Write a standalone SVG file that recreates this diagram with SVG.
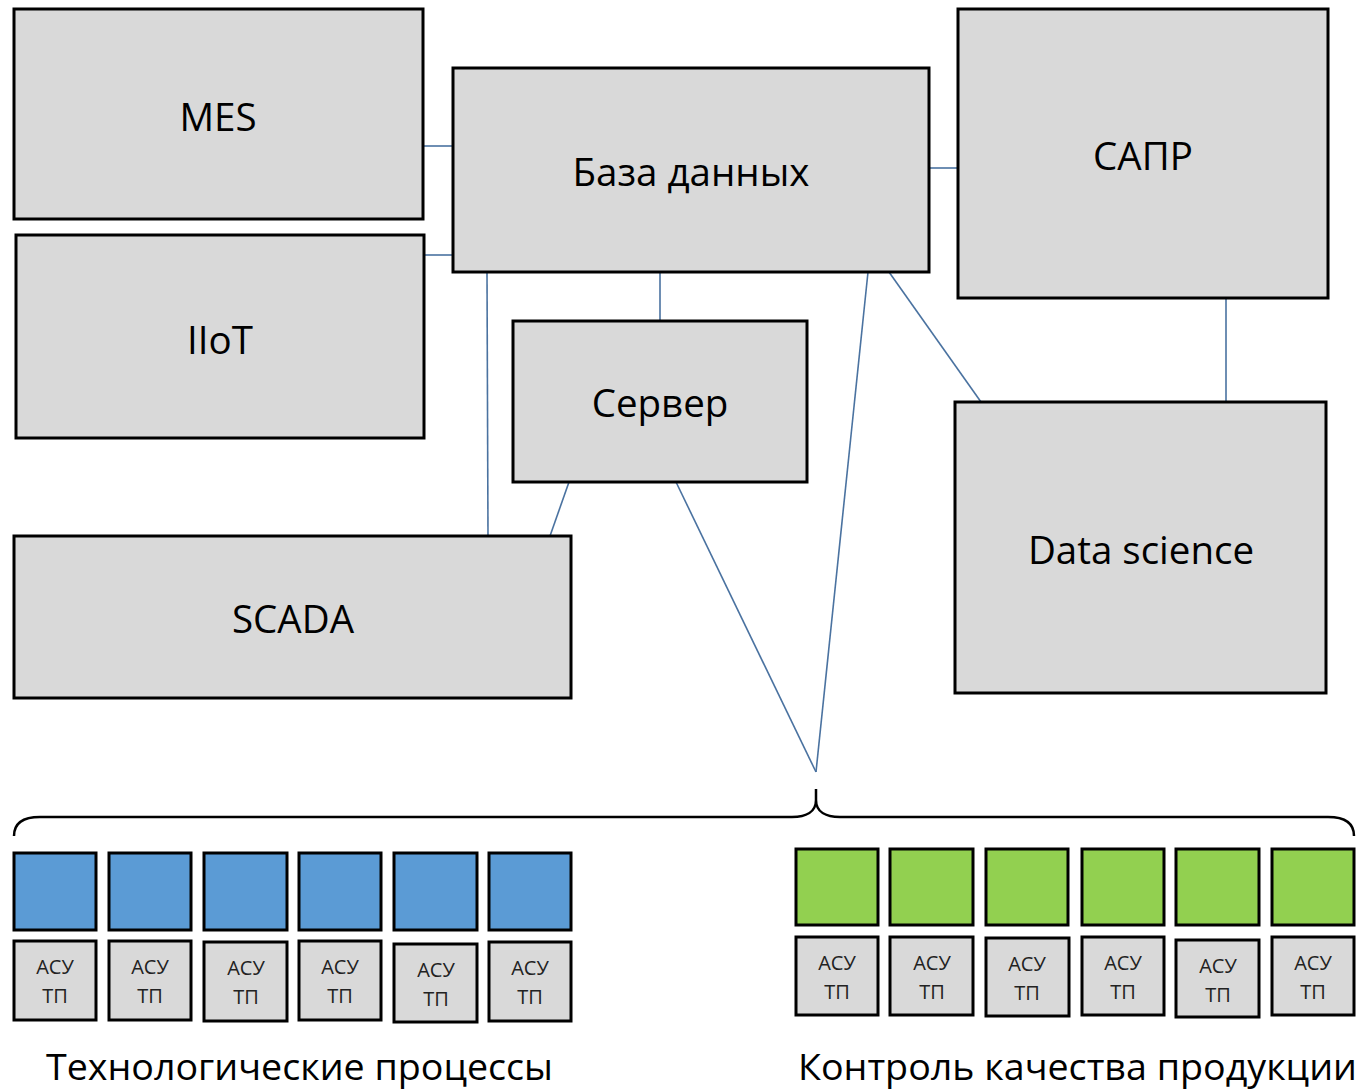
<svg xmlns="http://www.w3.org/2000/svg" width="1363" height="1089" viewBox="0 0 1363 1089">
<style>
.box{fill:#d9d9d9;stroke:#000;stroke-width:3}
.blue{fill:#5b9bd5;stroke:#000;stroke-width:3}
.green{fill:#92d050;stroke:#000;stroke-width:3}
.lbl{font-family:"Open Sans","Liberation Sans",sans-serif;font-size:38.5px;fill:#000;text-anchor:middle;dominant-baseline:central}
.acu{font-family:"Open Sans","Liberation Sans",sans-serif;font-size:20px;fill:#222;text-anchor:middle}
.cap{font-family:"Open Sans","Liberation Sans",sans-serif;font-size:36px;fill:#000}
.conn line{stroke:#4a72a0;stroke-width:1.6}
</style>
<rect width="1363" height="1089" fill="#fff"/>
<g id="connectors" class="conn">
<line x1="423" y1="146" x2="453" y2="146"/>
<line x1="424" y1="255" x2="453" y2="255"/>
<line x1="929" y1="168" x2="958" y2="168"/>
<line x1="660" y1="272" x2="660" y2="321"/>
<line x1="487" y1="272" x2="488" y2="536"/>
<line x1="569" y1="482" x2="550" y2="536"/>
<line x1="676" y1="482" x2="816" y2="772"/>
<line x1="868" y1="272" x2="816" y2="772"/>
<line x1="889" y1="272" x2="981" y2="402"/>
<line x1="1226" y1="298" x2="1226" y2="402"/>
</g>
<g id="mes"><rect class="box" x="14" y="9" width="409" height="210"/><text class="lbl" x="218" y="116">MES</text></g>
<g id="db"><rect class="box" x="453" y="68" width="476" height="204"/><text class="lbl" x="691" y="171">База данных</text></g>
<g id="sapr"><rect class="box" x="958" y="9" width="370" height="289"/><text class="lbl" x="1143" y="155">САПР</text></g>
<g id="iiot"><rect class="box" x="16" y="235" width="408" height="203"/><text class="lbl" x="220" y="339">IIoT</text></g>
<g id="server"><rect class="box" x="513" y="321" width="294" height="161"/><text class="lbl" x="660" y="402">Сервер</text></g>
<g id="ds"><rect class="box" x="955" y="402" width="371" height="291"/><text class="lbl" x="1141" y="549">Data science</text></g>
<g id="scada"><rect class="box" x="14" y="536" width="557" height="162"/><text class="lbl" x="293" y="618">SCADA</text></g>
<g id="brace"><path d="M14,836 C14,824 22,817 40,817 L792,817 C806,817 816,812 816,800 L816,789 M816,800 C816,812 826,817 840,817 L1328,817 C1346,817 1354,824 1354,836" fill="none" stroke="#000" stroke-width="2.5"/></g>
<g id="tech">
<rect class="blue" x="14" y="853" width="82" height="77"/>
<rect class="blue" x="109" y="853" width="82" height="77"/>
<rect class="blue" x="204" y="853" width="83" height="77"/>
<rect class="blue" x="299" y="853" width="82" height="77"/>
<rect class="blue" x="394" y="853" width="83" height="77"/>
<rect class="blue" x="489" y="853" width="82" height="77"/>
</g>
<g id="tech-acu">
<rect class="box" x="14" y="941" width="82" height="79"/><text class="acu" x="55" y="974">АСУ</text><text class="acu" x="55" y="1003">ТП</text>
<rect class="box" x="109" y="941" width="82" height="79"/><text class="acu" x="150" y="974">АСУ</text><text class="acu" x="150" y="1003">ТП</text>
<rect class="box" x="204" y="942" width="83" height="79"/><text class="acu" x="246" y="975">АСУ</text><text class="acu" x="246" y="1004">ТП</text>
<rect class="box" x="299" y="941" width="82" height="79"/><text class="acu" x="340" y="974">АСУ</text><text class="acu" x="340" y="1003">ТП</text>
<rect class="box" x="394" y="944" width="83" height="78"/><text class="acu" x="436" y="977">АСУ</text><text class="acu" x="436" y="1006">ТП</text>
<rect class="box" x="489" y="942" width="82" height="79"/><text class="acu" x="530" y="975">АСУ</text><text class="acu" x="530" y="1004">ТП</text>
</g>
<g id="qc">
<rect class="green" x="796" y="849" width="82" height="76"/>
<rect class="green" x="890" y="849" width="83" height="76"/>
<rect class="green" x="986" y="849" width="82" height="76"/>
<rect class="green" x="1082" y="849" width="82" height="76"/>
<rect class="green" x="1176" y="849" width="83" height="76"/>
<rect class="green" x="1272" y="849" width="82" height="76"/>
</g>
<g id="qc-acu">
<rect class="box" x="796" y="937" width="82" height="78"/><text class="acu" x="837" y="970">АСУ</text><text class="acu" x="837" y="999">ТП</text>
<rect class="box" x="890" y="937" width="83" height="78"/><text class="acu" x="932" y="970">АСУ</text><text class="acu" x="932" y="999">ТП</text>
<rect class="box" x="986" y="938" width="83" height="78"/><text class="acu" x="1027" y="971">АСУ</text><text class="acu" x="1027" y="1000">ТП</text>
<rect class="box" x="1082" y="937" width="82" height="78"/><text class="acu" x="1123" y="970">АСУ</text><text class="acu" x="1123" y="999">ТП</text>
<rect class="box" x="1176" y="940" width="83" height="77"/><text class="acu" x="1218" y="973">АСУ</text><text class="acu" x="1218" y="1002">ТП</text>
<rect class="box" x="1272" y="937" width="82" height="78"/><text class="acu" x="1313" y="970">АСУ</text><text class="acu" x="1313" y="999">ТП</text>
</g>
<text class="cap" x="46" y="1080" textLength="507" lengthAdjust="spacingAndGlyphs">Технологические процессы</text>
<text class="cap" x="798" y="1080" textLength="559" lengthAdjust="spacingAndGlyphs">Контроль качества продукции</text>
</svg>
